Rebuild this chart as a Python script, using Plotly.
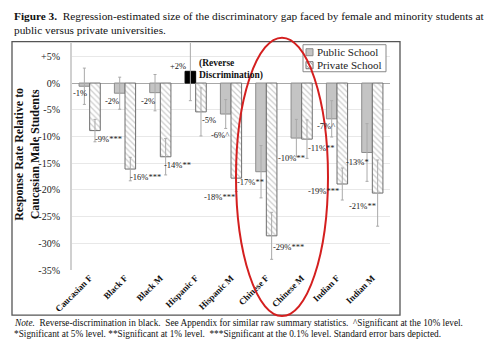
import plotly.graph_objects as go

categories = ["Caucasian F", "Black F", "Black M", "Hispanic F", "Hispanic M",
              "Chinese F", "Chinese M", "Indian F", "Indian M"]
public_vals = [-0.6, -1.9, -1.8, 2.2, -5.8, -16.6, -10.3, -6.7, -13.0]
private_vals = [-8.9, -16.1, -13.8, -5.4, -17.8, -28.6, -10.5, -18.9, -20.6]
public_se = [3.4, 3.0, 3.4, 5.5, 2.7, 4.9, 3.5, 3.4, 5.4]
private_se = [2.1, 2.2, 3.4, 4.5, 2.5, 4.4, 3.6, 3.0, 6.2]
public_labels = ["-1%", "-2%", "-2%", "+2%", "-6%^", "-17%**", "-10%**", "-7%^", "-13%*"]
private_labels = ["-9%***", "-16%***", "-14%**", "-5%", "-18%***", "-29%***", "-11%**", "-19%***", "-21%**"]
reverse_flag = [False, False, False, True, False, False, False, False, False]
series_names = ["Public School", "Private School"]
y_tick_vals = [5, 0, -5, -10, -15, -20, -25, -30, -35]
y_tick_text = ["+5%", "0%", "-5%", "-10%", "-15%", "-20%", "-25%", "-30%", "-35%"]

# label placement (data coordinates), layout only
public_label_xy = [(-0.27, -1.9), (0.63, -3.3), (1.66, -3.3), (2.51, 3.2), (3.68, -9.7),
                   (4.56, -18.6), (5.70, -13.95), (6.69, -8.0), (7.59, -14.7)]
private_label_xy = [(0.53, -10.5), (1.58, -17.5), (2.48, -15.3), (3.37, -6.9), (3.68, -21.3),
                    (5.64, -30.7), (6.57, -12.2), (6.63, -20.3), (7.73, -23.0)]

SERIF = "Liberation Serif"
PUB_FILL, PUB_LINE = "#c4c4c4", "#8c8c8c"
HATCH = "#9a9a9a"

L, R, T, B = 72, 390, 43.3, 270
pw, ph = R - L, B - T
def px2paper(px, py):
    return (px - L) / pw, (B - py) / ph

fig = go.Figure()
fig.add_trace(go.Bar(
    name=series_names[0], x=categories, y=public_vals,
    marker=dict(color=["#000000" if r else PUB_FILL for r in reverse_flag],
                line=dict(color=["#000000" if r else PUB_LINE for r in reverse_flag], width=1)),
    error_y=dict(type="data", array=public_se, color="#aaaaaa", thickness=1, width=1.5),
))
fig.add_trace(go.Bar(
    name=series_names[1], x=categories, y=private_vals,
    marker=dict(color="white", line=dict(color="#6e6e6e", width=1),
                pattern=dict(shape="\\", fgcolor=HATCH, bgcolor="white", size=4, solidity=0.3)),
    error_y=dict(type="data", array=private_se, color="#aaaaaa", thickness=1, width=1.5),
))

annotations = []
for txt, (x, y) in zip(public_labels, public_label_xy):
    annotations.append(dict(x=x, y=y, xref="x", yref="y", text=txt, showarrow=False,
                            font=dict(family=SERIF, size=8.5, color="#222")))
for txt, (x, y) in zip(private_labels, private_label_xy):
    annotations.append(dict(x=x, y=y, xref="x", yref="y", text=txt, showarrow=False,
                            font=dict(family=SERIF, size=8.5, color="#222")))
annotations.append(dict(x=3.05, y=2.6, xref="x", yref="y", xanchor="left", yanchor="middle",
                        align="left", text="<b>(Reverse<br>Discrimination)</b>", showarrow=False,
                        font=dict(family=SERIF, size=9.5, color="#111")))

def paper_text(px, py, text, size, **kw):
    x, y = px2paper(px, py)
    d = dict(x=x, y=y, xref="paper", yref="paper", xanchor="left", yanchor="middle",
             text=text, showarrow=False, font=dict(family=SERIF, size=size, color="#111"))
    d.update(kw)
    return d

annotations.append(paper_text(12, 16, "<b>Figure 3.</b>  Regression-estimated size of the discriminatory gap faced by female and minority students at", 11.3))
annotations.append(paper_text(12, 30, "public versus private universities.", 11.3))
annotations.append(paper_text(12, 322.5, "<i>Note.</i>  Reverse-discrimination in black.  See Appendix for similar raw summary statistics.  ^Significant at the 10% level.", 9.3))
annotations.append(paper_text(12, 333.5, "*Significant at 5% level. **Significant at 1% level.  ***Significant at the 0.1% level. Standard error bars depicted.", 9.3))
annotations.append(paper_text(27, 155, "<b>Response Rate Relative to<br>Caucasian Male Students</b>", 12,
                              xanchor="center", textangle=-90))
# legend texts
annotations.append(paper_text(315, 52.5, series_names[0], 11, font=dict(family=SERIF, size=11, color="#222")))
annotations.append(paper_text(315, 65.5, series_names[1], 11, font=dict(family=SERIF, size=11, color="#222")))

def prect(px0, py0, px1, py1, **kw):
    x0, y0 = px2paper(px0, py1)
    x1, y1 = px2paper(px1, py0)
    d = dict(type="rect", xref="paper", yref="paper", x0=x0, y0=y0, x1=x1, y1=y1)
    d.update(kw)
    return d

def pline(px0, py0, px1, py1, **kw):
    x0, y0 = px2paper(px0, py0)
    x1, y1 = px2paper(px1, py1)
    d = dict(type="line", xref="paper", yref="paper", x0=x0, y0=y0, x1=x1, y1=y1)
    d.update(kw)
    return d

ex0, ey0 = px2paper(236, 316)
ex1, ey1 = px2paper(328, 38)

shapes = [
    prect(12, 42, 400, 315, line=dict(color="#555", width=1.3), layer="below"),
    # legend box
    prect(303, 45, 386, 72, line=dict(color="#888", width=1), fillcolor="white"),
    prect(306, 49, 313, 56, line=dict(color=PUB_LINE, width=1), fillcolor=PUB_FILL),
    prect(306, 62, 313, 69, line=dict(color="#6e6e6e", width=1), fillcolor="white"),
    pline(306, 62, 313, 69, line=dict(color=HATCH, width=1)),
    pline(306, 65.5, 309.5, 69, line=dict(color=HATCH, width=1)),
    pline(309.5, 62, 313, 65.5, line=dict(color=HATCH, width=1)),
    dict(type="circle", xref="paper", yref="paper", x0=ex0, y0=ey0, x1=ex1, y1=ey1,
         line=dict(color="#d41f1f", width=2)),
]

fig.update_layout(
    width=500, height=360,
    margin=dict(l=L, r=500 - R, t=T, b=360 - B, pad=0),
    paper_bgcolor="white", plot_bgcolor="white",
    barmode="group", bargap=0.4, bargroupgap=0,
    showlegend=False,
    annotations=annotations, shapes=shapes,
    xaxis=dict(type="category", categoryorder="array", categoryarray=categories,
               range=[-0.5, 8.5], tickangle=-45, showgrid=False, showline=False, ticks="",
               tickfont=dict(family=SERIF, size=9, color="#111", weight="bold")),
    yaxis=dict(range=[-35, 7.5], tickvals=y_tick_vals, ticktext=y_tick_text,
               showgrid=True, gridcolor="#e8e8e8", gridwidth=1,
               zeroline=True, zerolinecolor="#a8a8a8", zerolinewidth=1,
               showline=True, linecolor="#d0d0d0", linewidth=2, ticks="", ticklabelstandoff=8,
               tickfont=dict(family=SERIF, size=10, color="#222")),
    font=dict(family=SERIF),
)

fig.write_html("out.html", config={"displayModeBar": False},
               post_script="document.body.style.margin='0';")
